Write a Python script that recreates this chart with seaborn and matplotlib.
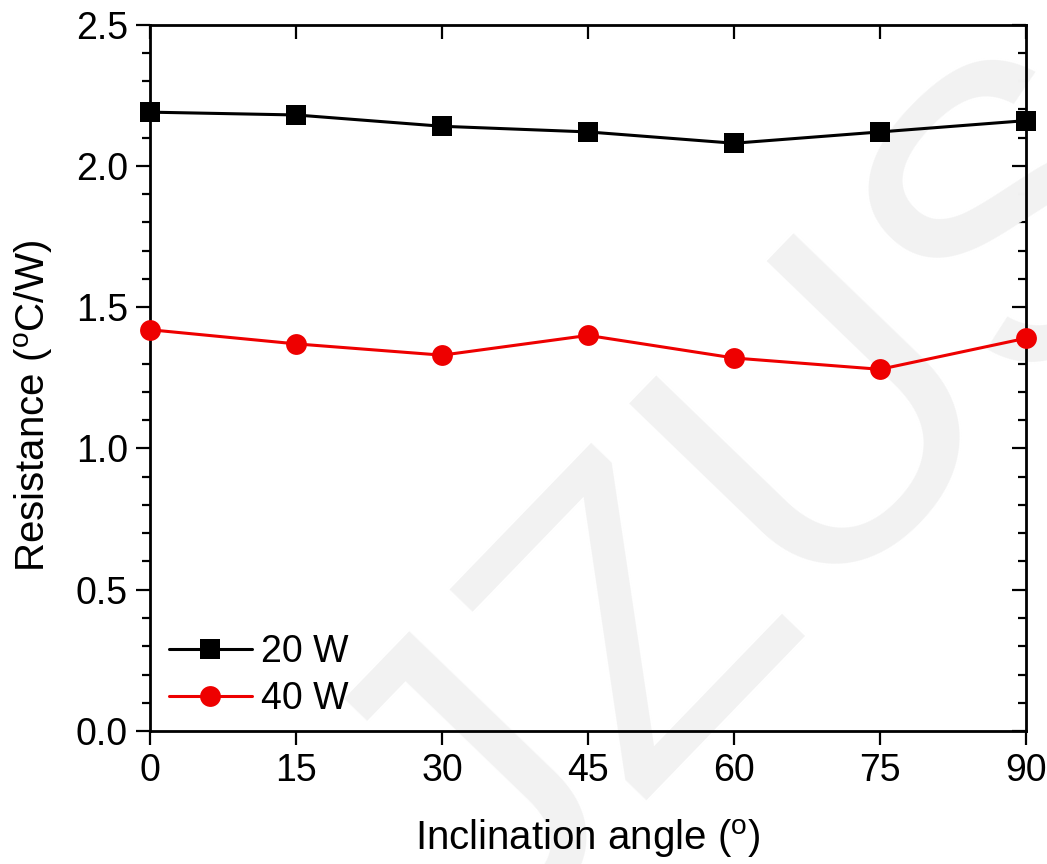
import pandas as pd
import matplotlib.pyplot as plt
import seaborn as sns
from matplotlib.ticker import MultipleLocator

# data
angles = [0, 15, 30, 45, 60, 75, 90]
r_20w = [2.19, 2.18, 2.14, 2.12, 2.08, 2.12, 2.16]
r_40w = [1.42, 1.37, 1.33, 1.40, 1.32, 1.28, 1.39]
series_names = ["20 W", "40 W"]

df = pd.DataFrame({
    "angle": angles * 2,
    "resistance": r_20w + r_40w,
    "power": [series_names[0]] * len(angles) + [series_names[1]] * len(angles),
})

sns.set_style("ticks")
plt.rcParams["font.family"] = ["Liberation Sans", "DejaVu Sans"]
plt.rcParams["mathtext.fontset"] = "custom"
plt.rcParams["mathtext.rm"] = "Liberation Sans"
for k in ["text.color", "axes.labelcolor", "xtick.color", "ytick.color", "axes.edgecolor"]:
    plt.rcParams[k] = "black"

fig = plt.figure(figsize=(10.47, 8.64), dpi=100)
ax = fig.add_axes([0.1433, 0.1539, 0.8367, 0.8177])
ax.set_facecolor("none")

# watermark behind everything
ax.text(0.741, 0.416, "JZUS", fontsize=300, color="#f2f2f2", rotation=46,
        ha="center", va="center", zorder=0.1, clip_on=False,
        transform=fig.transFigure)

sns.lineplot(data=df, x="angle", y="resistance", hue="power", style="power",
             palette=["black", "#ee0000"], markers=["s", "o"], dashes=False,
             markersize=15, markeredgewidth=0, linewidth=2.2, ax=ax, zorder=3)
for line in ax.lines:
    line.set_clip_on(False)

ax.set_xlim(0, 90)
ax.set_ylim(0, 2.5)
ax.set_xticks(angles)
ax.yaxis.set_major_locator(MultipleLocator(0.5))
ax.yaxis.set_minor_locator(MultipleLocator(0.1))
ax.set_xlabel("Inclination angle ($^\\mathregular{o}$)", fontsize=29, labelpad=20)
ax.set_ylabel("Resistance ($^\\mathregular{o}$C/W)", fontsize=29)
ax.yaxis.set_label_coords(-0.108, 0.46)

for s in ax.spines.values():
    s.set_linewidth(2)
ax.tick_params(axis="both", which="major", direction="out", length=10, width=1.6,
               labelsize=27, pad=6)
ax.tick_params(axis="y", which="minor", direction="out", length=6, width=1.6)

top = ax.secondary_xaxis("top")
top.set_xticks(angles)
top.tick_params(direction="in", length=10, width=1.6, labeltop=False)
right = ax.secondary_yaxis("right")
right.yaxis.set_major_locator(MultipleLocator(0.5))
right.yaxis.set_minor_locator(MultipleLocator(0.1))
right.tick_params(which="major", direction="in", length=10, width=1.6, labelright=False)
right.tick_params(which="minor", direction="in", length=6, width=1.6)

handles, labels = ax.get_legend_handles_labels()
ax.legend(handles, labels, loc="lower left", bbox_to_anchor=(-0.004, -0.012),
          frameon=False, fontsize=27, handlelength=2.2, handletextpad=0.25,
          labelspacing=0.3, borderaxespad=0.2)

plt.savefig("out.png", dpi=100)
plt.close()
